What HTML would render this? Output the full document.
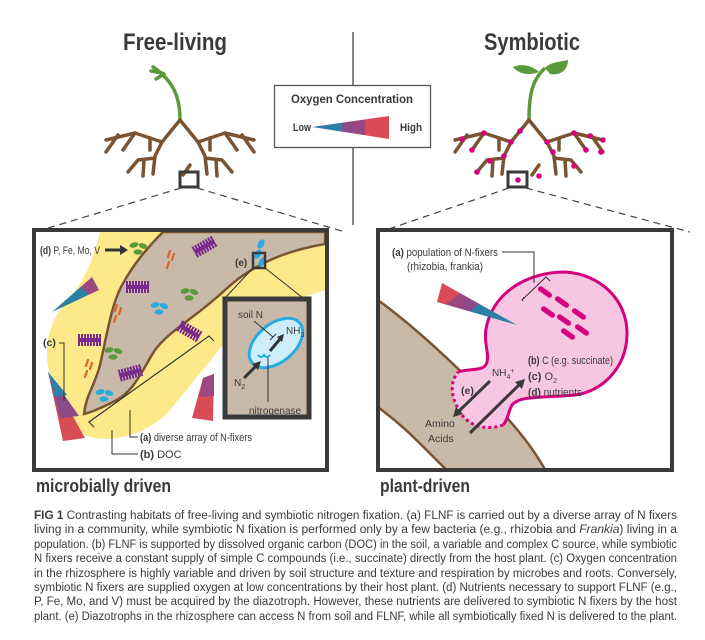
<!DOCTYPE html>
<html><head><meta charset="utf-8"><style>
html,body{margin:0;padding:0;background:#fff;}
svg{display:block;}
text{font-family:"Liberation Sans",sans-serif;fill:#3a3a3a;}
.b{font-weight:bold;}
</style></head><body>
<svg width="705" height="640" viewBox="0 0 705 640" xmlns="http://www.w3.org/2000/svg">
<defs>
<linearGradient id="wg" x1="0" x2="1" y1="0" y2="0">
<stop offset="0" stop-color="#2e7fa6"/><stop offset="0.38" stop-color="#2e7fa6"/><stop offset="0.4" stop-color="#8b4a8a"/><stop offset="0.68" stop-color="#9b4780"/><stop offset="0.7" stop-color="#d94c55"/><stop offset="1" stop-color="#d94c55"/>
</linearGradient>
<linearGradient id="wgr" x1="1" x2="0" y1="0.7" y2="0">
<stop offset="0" stop-color="#2e7fa6"/><stop offset="0.4" stop-color="#2e7fa6"/><stop offset="0.42" stop-color="#8b4a8a"/><stop offset="0.68" stop-color="#9b4780"/><stop offset="0.7" stop-color="#d94c55"/><stop offset="1" stop-color="#d94c55"/>
</linearGradient>
<linearGradient id="wgp" x1="0" x2="1" y1="0.7" y2="0">
<stop offset="0" stop-color="#2e7fa6"/><stop offset="0.6" stop-color="#2e7fa6"/><stop offset="0.62" stop-color="#9b4780"/><stop offset="1" stop-color="#9b4780"/>
</linearGradient>
<g id="roots" fill="none" stroke="#7a5432" stroke-width="3.5" stroke-linecap="round" stroke-linejoin="round">
<path d="M0,0 L-18,22 L-45,13 L-74,20"/>
<path d="M-45,13 L-57,30"/><path d="M-62,15 L-74,32"/><path d="M-30,18 L-30,30"/>
<path d="M-18,22 L-25,36 L-27,54"/><path d="M-25,38 L-42,40 L-52,52"/><path d="M-36,40 L-37,56"/>
<path d="M0,0 L18,22 L45,13 L74,20"/>
<path d="M45,13 L57,30"/><path d="M62,15 L74,32"/><path d="M30,18 L30,30"/>
<path d="M18,22 L25,36 L27,54"/><path d="M25,38 L42,40 L52,52"/><path d="M36,40 L37,56"/>
<path d="M10,45 L3,55"/>
</g>
<g id="grn" fill="#5a9a3a"><ellipse cx="-4" cy="-3" rx="4.5" ry="2.6" transform="rotate(-15 -4 -3)"/><ellipse cx="5" cy="-2" rx="4.5" ry="2.6" transform="rotate(20 5 -2)"/><ellipse cx="0" cy="4" rx="4.5" ry="2.6"/></g>
<g id="blu" fill="#29abe2"><ellipse cx="-4" cy="-3" rx="4.5" ry="2.6" transform="rotate(-15 -4 -3)"/><ellipse cx="5" cy="-2" rx="4.5" ry="2.6" transform="rotate(20 5 -2)"/><ellipse cx="0" cy="4" rx="4.5" ry="2.6"/></g>
<g id="org" stroke="#e2622a" stroke-width="2.2" stroke-linecap="round"><path d="M-1,-9 L-3,-3"/><path d="M3,-6 L1,0"/><path d="M-2,2 L-4,8"/></g>
<g id="pur" stroke="#7a2a8f" stroke-width="2" fill="none"><path d="M-10,-6 v12 M-7,-6 v12 M-4,-6 v12 M-1,-6 v12 M2,-6 v12 M5,-6 v12 M8,-6 v12 M11,-6 v12"/><path d="M-10,0 H11" stroke-width="4"/></g>
<g id="rod"><rect x="-8" y="-2.6" width="16" height="5.2" rx="2.6" fill="#d6007f"/></g>
</defs>

<text x="175" y="50" class="b" font-size="24" text-anchor="middle" textLength="104" lengthAdjust="spacingAndGlyphs">Free-living</text>
<text x="532" y="50" class="b" font-size="24" text-anchor="middle" textLength="96" lengthAdjust="spacingAndGlyphs">Symbiotic</text>
<line x1="353" y1="32" x2="353" y2="225" stroke="#444" stroke-width="1.3"/>

<rect x="274.5" y="85.5" width="156" height="62" fill="#fff" stroke="#555" stroke-width="1.3"/>
<text x="352" y="103" class="b" font-size="12" text-anchor="middle" textLength="122" lengthAdjust="spacingAndGlyphs">Oxygen Concentration</text>
<text x="293" y="131" class="b" font-size="11" textLength="18" lengthAdjust="spacingAndGlyphs">Low</text>
<text x="400" y="131" class="b" font-size="11" textLength="22" lengthAdjust="spacingAndGlyphs">High</text>
<polygon points="312,127 389,116 389,139" fill="url(#wg)"/>

<path d="M180,120 C180,95 172,80 153,67 M162,73 L151,71 M164,74 L156,79" stroke="#5a9a3a" stroke-width="3.5" fill="none" stroke-linecap="round"/>
<use href="#roots" x="180" y="120"/>
<rect x="180" y="172" width="18" height="15" fill="none" stroke="#3a3a3a" stroke-width="3"/>
<path d="M529,120 C529,95 532,80 545,68" stroke="#5a9a3a" stroke-width="3.5" fill="none"/>
<path d="M539,72 C530,64 520,64 513,67 C518,74 530,76 539,72Z" fill="#5a9a3a"/>
<path d="M545,68 C550,62 560,62 568,60 C568,70 560,76 550,74Z" fill="#5a9a3a"/>
<use href="#roots" x="529" y="120"/>
<g fill="#d6007f">
<circle cx="520" cy="131" r="2.8"/><circle cx="511" cy="142" r="2.8"/><circle cx="484" cy="133" r="2.8"/><circle cx="462" cy="139" r="2.8"/><circle cx="472" cy="150" r="2.8"/><circle cx="504" cy="156" r="2.8"/><circle cx="490" cy="161" r="2.8"/><circle cx="477" cy="172" r="2.8"/>
<circle cx="547" cy="142" r="2.8"/><circle cx="553" cy="152" r="2.8"/><circle cx="574" cy="133" r="2.8"/><circle cx="590" cy="136" r="2.8"/><circle cx="603" cy="140" r="2.8"/><circle cx="586" cy="150" r="2.8"/><circle cx="601" cy="152" r="2.8"/><circle cx="574" cy="166" r="2.8"/><circle cx="539" cy="176" r="2.8"/><circle cx="518" cy="180" r="2.8"/>
</g>
<rect x="508" y="172" width="19" height="15" fill="none" stroke="#3a3a3a" stroke-width="3"/>

<g stroke="#444" stroke-width="1.2" stroke-dasharray="7,5" fill="none">
<path d="M181,188 L35,232"/><path d="M197,188 L345,232"/>
<path d="M509,188 L380,232"/><path d="M526,188 L690,232"/>
</g>

<svg x="36" y="232" width="289" height="236" viewBox="36 232 289 236">
<rect x="36" y="232" width="289" height="236" fill="#fff"/>
<path d="M100,232 L325,232 L325,290 C300,300 260,305 235,330 C215,355 195,380 170,410 C150,432 120,442 95,438 C65,432 58,400 50,375 C42,345 50,320 68,300 C85,280 92,262 100,232Z" fill="#fde88a"/>
<path d="M163,232 L325,232 L325,244 C290,250 255,262 225,290 C195,318 170,330 155,350 C143,368 135,392 113,402 C103,407 92,412 84,414 C86,395 95,385 100,365 C108,330 112,300 125,280 C135,262 150,245 163,232Z" fill="#c9b9a8" stroke="#7a5432" stroke-width="2.5"/>
<use href="#grn" x="138" y="248"/><use href="#grn" x="189" y="294"/><use href="#grn" x="113" y="353"/>
<use href="#org" x="171" y="260"/><use href="#org" x="118" y="314"/><use href="#org" x="89" y="369"/>
<use href="#pur" transform="translate(204,247) rotate(-30)"/><use href="#pur" transform="translate(137,287) rotate(0)"/><use href="#pur" transform="translate(189,331) rotate(30)"/><use href="#pur" transform="translate(89,340)"/><use href="#pur" transform="translate(130,373) rotate(-15)"/>
<use href="#blu" x="159" y="308"/><use href="#blu" x="104" y="395"/>
<g fill="#29abe2"><ellipse cx="261" cy="244" rx="3" ry="5" transform="rotate(30 261 244)"/><ellipse cx="258" cy="254" rx="3" ry="5" transform="rotate(30 258 254)"/><ellipse cx="262" cy="262" rx="3" ry="5" transform="rotate(30 262 262)"/></g>
<polygon points="52,312 92,277 99,290" fill="url(#wgp)"/>
<polygon points="48,372 63,441 85,438" fill="#d94c55"/>
<polygon points="48,372 60,418 79,416" fill="#8b4a8a"/>
<polygon points="48,372 55,397 67,395" fill="#2e7fa6"/>
<polygon points="203,378 214,374 213,421 192,418" fill="#d94c55"/>
<polygon points="203,378 214,374 214,396 199,397" fill="#9b4780"/>
<rect x="253" y="253" width="12" height="15" fill="none" stroke="#3a3a3a" stroke-width="2.5"/>
<text x="235" y="266" font-size="10" class="b">(e)</text>
<path d="M253,268 L225,298 M265,268 L303,298" stroke="#333" stroke-width="1" fill="none"/>
<rect x="225" y="299" width="84" height="118" fill="#c9b9a8" stroke="#3a3a3a" stroke-width="5"/>
<ellipse cx="276" cy="343" rx="31" ry="19" transform="rotate(-40 276 343)" fill="#cdeefa" stroke="#29abe2" stroke-width="3"/>
<text x="238" y="318" font-size="10">soil N</text>
<path d="M254,321 L273,337 M270,340 L276,334" stroke="#333" stroke-width="1" fill="none"/>
<text x="286" y="334" font-size="10">NH<tspan font-size="7" dy="3">3</tspan></text>
<path d="M270,351 L280,339" stroke="#333" stroke-width="3"/><polygon points="284,334 277,337 282,342" fill="#333"/>
<text x="234" y="386" font-size="10">N<tspan font-size="7" dy="3">2</tspan></text>
<path d="M244,378 L256,366" stroke="#333" stroke-width="3"/><polygon points="261,361 252,364 258,370" fill="#333"/>
<path d="M258,355 q3,4 6,0 q3,4 6,0" stroke="#29abe2" stroke-width="2" fill="none"/>
<path d="M268,358 L268,402" stroke="#333" stroke-width="1"/>
<text x="249" y="414" font-size="10.5" textLength="52" lengthAdjust="spacingAndGlyphs">nitrogenase</text>
<text x="40" y="254" font-size="11" textLength="60" lengthAdjust="spacingAndGlyphs"><tspan class="b">(d)</tspan> P, Fe, Mo, V</text>
<path d="M105,250 L122,250" stroke="#333" stroke-width="3"/><polygon points="128,250 120,245 120,255" fill="#333"/>
<text x="43" y="346" font-size="10.5" class="b">(c)</text>
<path d="M59,343 L64,343 L64,401" stroke="#333" stroke-width="1" fill="none"/>
<path d="M94,427 L89,422 L209,336 L214,341" stroke="#333" stroke-width="1.2" fill="none"/>
<path d="M130,410 L130,437 L138,437" stroke="#333" stroke-width="1" fill="none"/>
<text x="140" y="441" font-size="11" textLength="112" lengthAdjust="spacingAndGlyphs"><tspan class="b">(a)</tspan> diverse array of N-fixers</text>
<path d="M112,430 L112,454 L138,454" stroke="#333" stroke-width="1" fill="none"/>
<text x="140" y="458" font-size="11"><tspan class="b">(b)</tspan> DOC</text>
</svg>
<rect x="34" y="230" width="293" height="240" fill="none" stroke="#3a3a3a" stroke-width="4"/>
<text x="36" y="492" class="b" font-size="18" textLength="135" lengthAdjust="spacingAndGlyphs">microbially driven</text>

<svg x="380" y="232" width="290" height="236" viewBox="380 232 290 236">
<rect x="380" y="232" width="290" height="236" fill="#fff"/>
<path d="M375,298 C420,330 470,380 490,400 C515,425 535,450 548,475 L452,475 C430,455 410,430 375,405Z" fill="#c9b9a8"/>
<path d="M375,298 C420,330 470,380 490,400 C515,425 535,450 548,475 M452,475 C430,455 410,430 375,405" stroke="#7a5432" stroke-width="2.5" fill="none"/>
<path d="M458,372 C470,368 485,372 487,362 C490,350 480,340 490,315 C505,282 540,272 565,272 C600,274 628,300 627,335 C626,370 600,392 575,395 C545,398 520,395 512,405 C508,412 508,420 503,425 C490,430 472,428 462,415 C452,400 448,385 458,372Z" fill="#f7c6e2"/>
<path d="M458,372 C470,368 485,372 487,362 C490,350 480,340 490,315 C505,282 540,272 565,272 C600,274 628,300 627,335 C626,370 600,392 575,395 C545,398 520,395 512,405 C508,412 508,420 503,425" stroke="#d6007f" stroke-width="3" fill="none"/>
<path d="M503,425 C490,430 472,428 462,415 C452,400 448,385 458,372" stroke="#d6007f" stroke-width="3" stroke-dasharray="3,3" fill="none"/>
<use href="#rod" transform="translate(545,292) rotate(35)"/><use href="#rod" transform="translate(562,302) rotate(35)"/><use href="#rod" transform="translate(548,312) rotate(35)"/><use href="#rod" transform="translate(579,314) rotate(35)"/><use href="#rod" transform="translate(564,320) rotate(35)"/><use href="#rod" transform="translate(582,330) rotate(35)"/><use href="#rod" transform="translate(568,334) rotate(35)"/>
<polygon points="517,325 442,283 437,302" fill="url(#wgr)"/>
<text x="392" y="256" font-size="11" textLength="106" lengthAdjust="spacingAndGlyphs"><tspan class="b">(a)</tspan> population of N-fixers</text>
<text x="407" y="270" font-size="11" textLength="76" lengthAdjust="spacingAndGlyphs">(rhizobia, frankia)</text>
<path d="M502,252 L534,252 L534,283 M524,297 L522,301 M522,300 L546,277 L550,281" stroke="#333" stroke-width="1" fill="none"/>
<text x="528" y="364" font-size="11" textLength="85" lengthAdjust="spacingAndGlyphs"><tspan class="b">(b)</tspan> C (e.g. succinate)</text>
<text x="528" y="380" font-size="11"><tspan class="b">(c)</tspan> O<tspan font-size="7" dy="3">2</tspan></text>
<text x="528" y="396" font-size="11" textLength="54" lengthAdjust="spacingAndGlyphs"><tspan class="b">(d)</tspan> nutrients</text>
<text x="492" y="376" font-size="10">NH<tspan font-size="7" dy="3">4</tspan><tspan font-size="7" dy="-6">+</tspan></text>
<text x="461" y="394" font-size="10.5" class="b">(e)</text>
<path d="M490,381 L458,412" stroke="#3a3a3a" stroke-width="3"/><polygon points="453,417 456,407 463,414" fill="#3a3a3a"/>
<path d="M470,433 L520,384" stroke="#3a3a3a" stroke-width="3"/><polygon points="525,379 515,382 522,389" fill="#3a3a3a"/>
<text x="425" y="427" font-size="10.5" fill="#555">Amino</text>
<text x="428" y="442" font-size="10.5">Acids</text>
</svg>
<rect x="378" y="230" width="294" height="240" fill="none" stroke="#3a3a3a" stroke-width="4"/>
<text x="380" y="492" class="b" font-size="18" textLength="90" lengthAdjust="spacingAndGlyphs">plant-driven</text>

<g font-size="11.5">
<text x="34" y="519" textLength="643" lengthAdjust="spacingAndGlyphs"><tspan class="b">FIG 1</tspan> Contrasting habitats of free-living and symbiotic nitrogen fixation. (a) FLNF is carried out by a diverse array of N fixers</text>
<text x="34" y="533" textLength="643" lengthAdjust="spacingAndGlyphs">living in a community, while symbiotic N fixation is performed only by a few bacteria (e.g., rhizobia and <tspan font-style="italic">Frankia</tspan>) living in a</text>
<text x="34" y="548" textLength="643" lengthAdjust="spacingAndGlyphs">population. (b) FLNF is supported by dissolved organic carbon (DOC) in the soil, a variable and complex C source, while symbiotic</text>
<text x="34" y="562" textLength="643" lengthAdjust="spacingAndGlyphs">N fixers receive a constant supply of simple C compounds (i.e., succinate) directly from the host plant. (c) Oxygen concentration</text>
<text x="34" y="577" textLength="643" lengthAdjust="spacingAndGlyphs">in the rhizosphere is highly variable and driven by soil structure and texture and respiration by microbes and roots. Conversely,</text>
<text x="34" y="591" textLength="643" lengthAdjust="spacingAndGlyphs">symbiotic N fixers are supplied oxygen at low concentrations by their host plant. (d) Nutrients necessary to support FLNF (e.g.,</text>
<text x="34" y="605" textLength="643" lengthAdjust="spacingAndGlyphs">P, Fe, Mo, and V) must be acquired by the diazotroph. However, these nutrients are delivered to symbiotic N fixers by the host</text>
<text x="34" y="620" textLength="643" lengthAdjust="spacingAndGlyphs">plant. (e) Diazotrophs in the rhizosphere can access N from soil and FLNF, while all symbiotically fixed N is delivered to the plant.</text>
</g>
</svg>
</body></html>
